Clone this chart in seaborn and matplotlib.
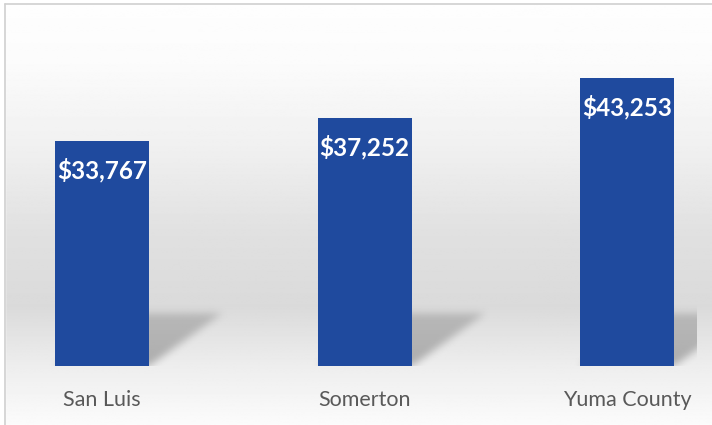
import numpy as np
import pandas as pd
import matplotlib
matplotlib.use("Agg")
import matplotlib.pyplot as plt
import seaborn as sns

places = ["San Luis", "Somerton", "Yuma County"]
income = [33767, 37252, 43253]
value_labels = ["$33,767", "$37,252", "$43,253"]

BAR = "#1f4a9e"
sns.set_theme(style="white")
plt.rcParams["font.family"] = ["Lato", "DejaVu Sans"]

W, H, DPI = 712, 425, 100
fig = plt.figure(figsize=(W / DPI, H / DPI), dpi=DPI)

# background: vertical gray gradient filling the chart frame
bg = fig.add_axes([0, 0, 1, 1], zorder=0)
rows = np.linspace(0, 1, 400)  # 0 = top, 1 = bottom
stops_y = [0.0, 0.15, 0.35, 0.55, 0.72, 0.86, 1.0]
stops_v = [0.995, 0.985, 0.94, 0.88, 0.855, 0.93, 0.985]
shade = np.interp(rows, stops_y, stops_v)
img = np.repeat(shade[:, None], 2, axis=1)
bg.imshow(img, cmap="gray", vmin=0, vmax=1, aspect="auto", extent=[0, 1, 0, 1])
bg.set_xlim(0, 1)
bg.set_ylim(0, 1)
bg.axis("off")
# white strip above / left of the frame and thin frame lines
bg.fill_between([0, 1], 1 - 4 / H, 1, color="white", zorder=2)
bg.fill_between([0, 5 / W], 0, 1, color="white", zorder=2)
bg.plot([5 / W, 5 / W], [0, 1 - 4 / H], color="#d0d0d0", lw=1.2, zorder=3)
bg.plot([5 / W, 1], [1 - 4 / H, 1 - 4 / H], color="#d0d0d0", lw=1.2, zorder=3)

# plotting axes: baseline at 366 px, 150 dollars per pixel
left_px, right_px = 6, 697
top_px, base_px = 20, 366
ax = fig.add_axes([left_px / W, 1 - base_px / H, (right_px - left_px) / W,
                   (base_px - top_px) / H], zorder=1)
ax.patch.set_alpha(0)

spacing = 262.5
x0 = -(102 - left_px) / spacing
x1 = x0 + (right_px - left_px) / spacing
ax.set_xlim(x0, x1)
ymax = (base_px - top_px) * 150.0
ax.set_ylim(0, ymax)

df = pd.DataFrame({"place": places, "income": income})
bw = 94 / spacing

# soft, skewed drop shadows behind each bar
def box_blur(a, r):
    k = np.ones(2 * r + 1) / (2 * r + 1)
    a = np.apply_along_axis(lambda m: np.convolve(m, k, mode="same"), 0, a)
    a = np.apply_along_axis(lambda m: np.convolve(m, k, mode="same"), 1, a)
    return a

sh_h, sh_dx = 52, 72  # pixels
for i in range(len(places)):
    cx_px = 102 + i * spacing
    l_px, r_px = cx_px - 47, cx_px + 47
    gx0, gx1 = l_px - 10, r_px + sh_dx + 20
    gy0, gy1 = -4, sh_h + 12
    xs = np.arange(gx0, gx1)
    ys = np.arange(gy0, gy1)
    X, Y = np.meshgrid(xs, ys)
    shift = sh_dx * Y / sh_h
    m = ((X >= l_px + shift) & (X <= r_px + shift) & (Y >= 0) & (Y <= sh_h)).astype(float)
    m = box_blur(box_blur(m, 4), 4)
    m *= np.clip(1.05 - 0.35 * Y / sh_h, 0, 1)
    rgba = np.zeros(m.shape + (4,))
    rgba[..., :3] = 0.45
    rgba[..., 3] = 0.5 * m
    ext = [(gx0 - 102) / spacing, (gx1 - 102) / spacing, gy0 * 150.0, gy1 * 150.0]
    ax.imshow(rgba[::-1], extent=ext, aspect="auto", zorder=1, interpolation="bilinear")

sns.barplot(data=df, x="place", y="income", color=BAR, saturation=1,
            width=bw, ax=ax, zorder=3, linewidth=0, edgecolor="none")
ax.set_xlim(x0, x1)
ax.set_ylim(0, ymax)

for i, (v, lab) in enumerate(zip(income, value_labels)):
    ax.text(i, v - 29 * 150.0, lab, ha="center", va="center", color="white",
            fontsize=17.5, fontweight="bold", zorder=4)

ax.set_xlabel("")
ax.set_ylabel("")
ax.set_yticks([])
ax.tick_params(axis="x", length=0, pad=17, labelsize=15.5, labelcolor="#595959")
for s in ax.spines.values():
    s.set_visible(False)

fig.savefig("out.png", dpi=DPI)
